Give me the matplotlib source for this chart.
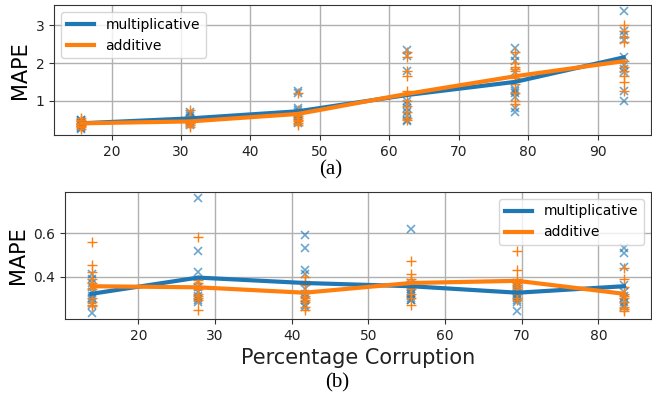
import numpy as np
import matplotlib
matplotlib.use('Agg')
import matplotlib.pyplot as plt

# (a) top panel
x_a = [15.625, 31.25, 46.875, 62.5, 78.125, 93.75]
mult_mean_a = [0.40, 0.53, 0.72, 1.15, 1.50, 2.15]
add_mean_a = [0.40, 0.45, 0.65, 1.18, 1.65, 2.05]
mult_pts_a = [
    [0.25, 0.30, 0.35, 0.38, 0.40, 0.42, 0.45, 0.48, 0.50, 0.27],
    [0.35, 0.40, 0.45, 0.50, 0.55, 0.60, 0.65, 0.70, 0.48, 0.52],
    [1.20, 1.25, 0.80, 0.70, 0.60, 0.50, 0.45, 0.40, 0.75, 0.65],
    [2.35, 2.20, 1.80, 1.00, 0.90, 0.80, 0.70, 0.60, 0.50, 0.45],
    [2.40, 2.20, 2.05, 1.75, 1.30, 1.20, 1.10, 0.80, 0.70, 1.25],
    [3.38, 2.85, 2.75, 2.60, 2.15, 1.95, 1.85, 1.75, 1.25, 0.98],
]
add_pts_a = [
    [0.25, 0.30, 0.35, 0.40, 0.45, 0.50, 0.55, 0.38, 0.42, 0.33],
    [0.30, 0.40, 0.45, 0.50, 0.60, 0.75, 0.35, 0.42, 0.48, 0.55],
    [1.20, 0.75, 0.60, 0.50, 0.40, 0.70, 0.65, 0.55, 0.45, 0.35],
    [2.30, 2.15, 1.80, 1.65, 1.25, 1.00, 0.85, 0.70, 0.55, 0.50],
    [2.30, 2.00, 1.90, 1.80, 1.60, 1.45, 1.20, 1.00, 0.90, 1.85],
    [3.00, 2.85, 2.70, 2.55, 2.05, 1.90, 1.80, 1.65, 1.50, 1.25],
]

# (b) bottom panel
x_b = [13.89, 27.78, 41.67, 55.56, 69.44, 83.33]
mult_mean_b = [0.32, 0.395, 0.37, 0.355, 0.325, 0.355]
add_mean_b = [0.355, 0.35, 0.325, 0.37, 0.38, 0.32]
mult_pts_b = [
    [0.41, 0.39, 0.37, 0.35, 0.33, 0.31, 0.30, 0.29, 0.27, 0.23],
    [0.765, 0.52, 0.42, 0.38, 0.35, 0.33, 0.31, 0.30, 0.29, 0.28],
    [0.59, 0.53, 0.43, 0.41, 0.34, 0.32, 0.30, 0.29, 0.27, 0.26],
    [0.62, 0.37, 0.35, 0.34, 0.33, 0.32, 0.31, 0.30, 0.29, 0.29],
    [0.37, 0.35, 0.34, 0.33, 0.32, 0.31, 0.30, 0.29, 0.28, 0.24],
    [0.53, 0.51, 0.445, 0.36, 0.33, 0.31, 0.30, 0.28, 0.27, 0.26],
]
add_pts_b = [
    [0.56, 0.455, 0.42, 0.39, 0.37, 0.34, 0.30, 0.28, 0.27, 0.265],
    [0.585, 0.385, 0.37, 0.35, 0.34, 0.32, 0.31, 0.30, 0.29, 0.245],
    [0.40, 0.38, 0.36, 0.33, 0.31, 0.30, 0.29, 0.28, 0.26, 0.245],
    [0.47, 0.41, 0.39, 0.38, 0.37, 0.36, 0.34, 0.32, 0.30, 0.27],
    [0.52, 0.43, 0.39, 0.37, 0.36, 0.35, 0.34, 0.32, 0.30, 0.29],
    [0.44, 0.39, 0.35, 0.32, 0.31, 0.30, 0.28, 0.26, 0.25, 0.24],
]

BLUE = '#1f77b4'
ORANGE = '#ff7f0e'


def panel(ax, xs, mm, am, mp, ap, loc):
    for xv, m, a in zip(xs, mp, ap):
        ax.plot([xv] * len(m), m, 'x', color=BLUE, alpha=0.65, ms=5.5, mew=1.2)
        ax.plot([xv] * len(a), a, '+', color=ORANGE, ms=6.5, mew=1.0)
    ax.plot(xs, mm, '-', color=BLUE, lw=3, label='multiplicative')
    ax.plot(xs, am, '-', color=ORANGE, lw=3, label='additive')
    ax.grid(True, color='#b0b0b0', lw=1)
    ax.set_ylabel('MAPE', fontsize=15)
    ax.tick_params(labelsize=10, colors='#333333', labelcolor='#222222')
    for s in ax.spines.values():
        s.set_color('#333333')
    ax.legend(loc=loc, fontsize=10, handlelength=2.0)


fig = plt.figure(figsize=(6.52, 3.99), dpi=100)
ax1 = fig.add_axes([0.083, 0.662, 0.915, 0.325])
ax2 = fig.add_axes([0.0997, 0.2005, 0.898, 0.3185])

panel(ax1, x_a, mult_mean_a, add_mean_a, mult_pts_a, add_pts_a, 'upper left')
ax1.set_yticks([1, 2, 3])
panel(ax2, x_b, mult_mean_b, add_mean_b, mult_pts_b, add_pts_b, 'upper right')
ax2.set_yticks([0.4, 0.6])
ax2.set_xlabel('Percentage Corruption', fontsize=15, color='#222222')

fig.text(0.507, 0.575, '(a)', family='Liberation Serif', fontsize=15, ha='center', va='center')
fig.text(0.517, 0.04, '(b)', family='Liberation Serif', fontsize=15, ha='center', va='center')

fig.savefig('out.png', dpi=100)
